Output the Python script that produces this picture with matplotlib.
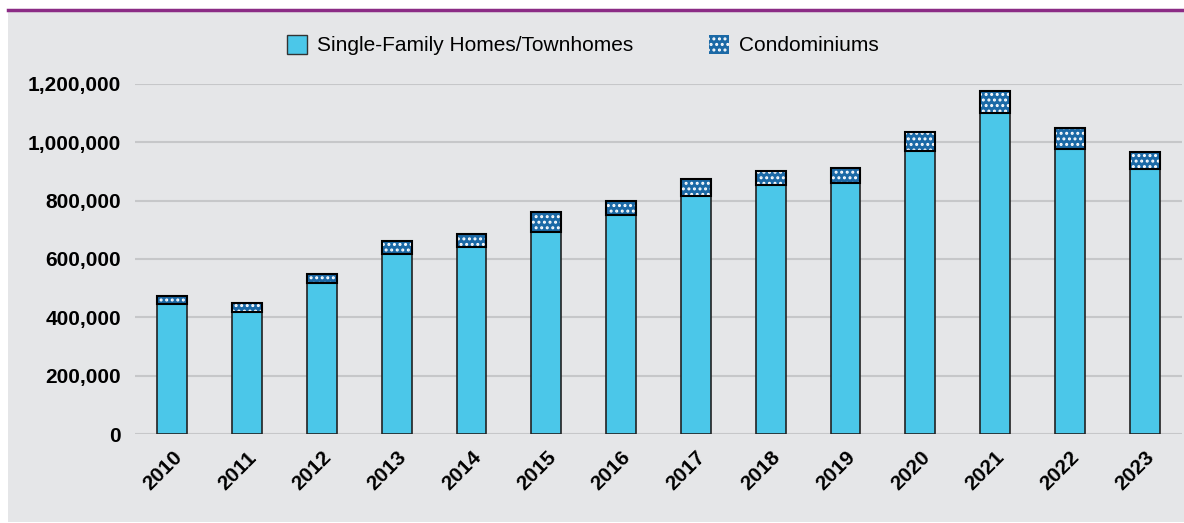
import matplotlib.pyplot as plt
from matplotlib.patches import Rectangle, Patch
from matplotlib.lines import Line2D
from matplotlib.ticker import FuncFormatter

plt.rcParams['font.family'] = ['Liberation Sans', 'DejaVu Sans']
plt.rcParams['hatch.linewidth'] = 1.4

years = ['2010', '2011', '2012', '2013', '2014', '2015', '2016',
         '2017', '2018', '2019', '2020', '2021', '2022', '2023']
# values
single_family = [445000, 417000, 517000, 618000, 640000, 694000, 751000,
                 816000, 855000, 862000, 970000, 1102000, 976000, 909000]
totals = [474000, 448000, 548000, 661000, 686000, 761000, 799000,
          874000, 901000, 912000, 1037000, 1175000, 1048000, 966000]
condos = [t - s for t, s in zip(totals, single_family)]

light_blue = '#4bc7e9'
dark_blue = '#1b69a6'
bg = '#e5e6e8'

fig = plt.figure(figsize=(11.84, 5.23), dpi=100)

# grey panel and purple rule at the top
fig.patches.append(Rectangle((8 / 1184, 1 / 523), 1 - 8 / 1184, 1 - 13 / 523,
                             transform=fig.transFigure, facecolor=bg,
                             edgecolor='none', zorder=-5))
fig.add_artist(Line2D([8 / 1184, 1], [1 - 10 / 523, 1 - 10 / 523],
                      transform=fig.transFigure, color='#8b2b85', linewidth=2.5))

ax = fig.add_axes([135 / 1184, 1 - 434 / 523, 1047 / 1184, 350 / 523])
ax.set_facecolor('none')

x = range(len(years))
w = 0.40
ax.bar(x, single_family, width=w, color=light_blue, edgecolor='#222222',
       linewidth=1.2, zorder=3)
# hatched condo part: white dots on dark blue, then a black outline on top
ax.bar(x, condos, width=w, bottom=single_family, color=dark_blue,
       edgecolor='white', hatch='...', linewidth=0, zorder=3)
ax.bar(x, condos, width=w, bottom=single_family, fill=False,
       edgecolor='black', linewidth=1.5, zorder=4)

ax.set_xlim(-0.5, len(years) - 0.5)
ax.set_ylim(0, 1200000)
ax.set_yticks(range(0, 1200001, 200000))
ax.yaxis.set_major_formatter(FuncFormatter(lambda v, p: f'{int(v):,}'))
ax.grid(axis='y', color='#c6c7c9', linewidth=1.5, zorder=0)
ax.set_axisbelow(True)
for s in ax.spines.values():
    s.set_visible(False)

ax.tick_params(axis='y', length=0, pad=10, labelsize=15)
ax.tick_params(axis='x', length=0, pad=10, labelsize=15)
for lbl in ax.get_yticklabels():
    lbl.set_fontweight('bold')
ax.set_xticks(list(x))
ax.set_xticklabels(years, rotation=45, ha='right', va='top',
                   rotation_mode='anchor', fontweight='bold')

handles = [Patch(facecolor=light_blue, edgecolor='#333333', linewidth=1.0),
           Patch(facecolor=dark_blue, edgecolor='white', hatch='...', linewidth=0)]
fig.legend(handles, ['Single-Family Homes/Townhomes', 'Condominiums'],
           loc='center', bbox_to_anchor=(583 / 1184, 1 - 45 / 523), ncol=2,
           frameon=False, fontsize=15, handlelength=0.95, handleheight=1.05,
           handletextpad=0.5, columnspacing=3.6)

fig.savefig('out.png', dpi=100, facecolor='white')
